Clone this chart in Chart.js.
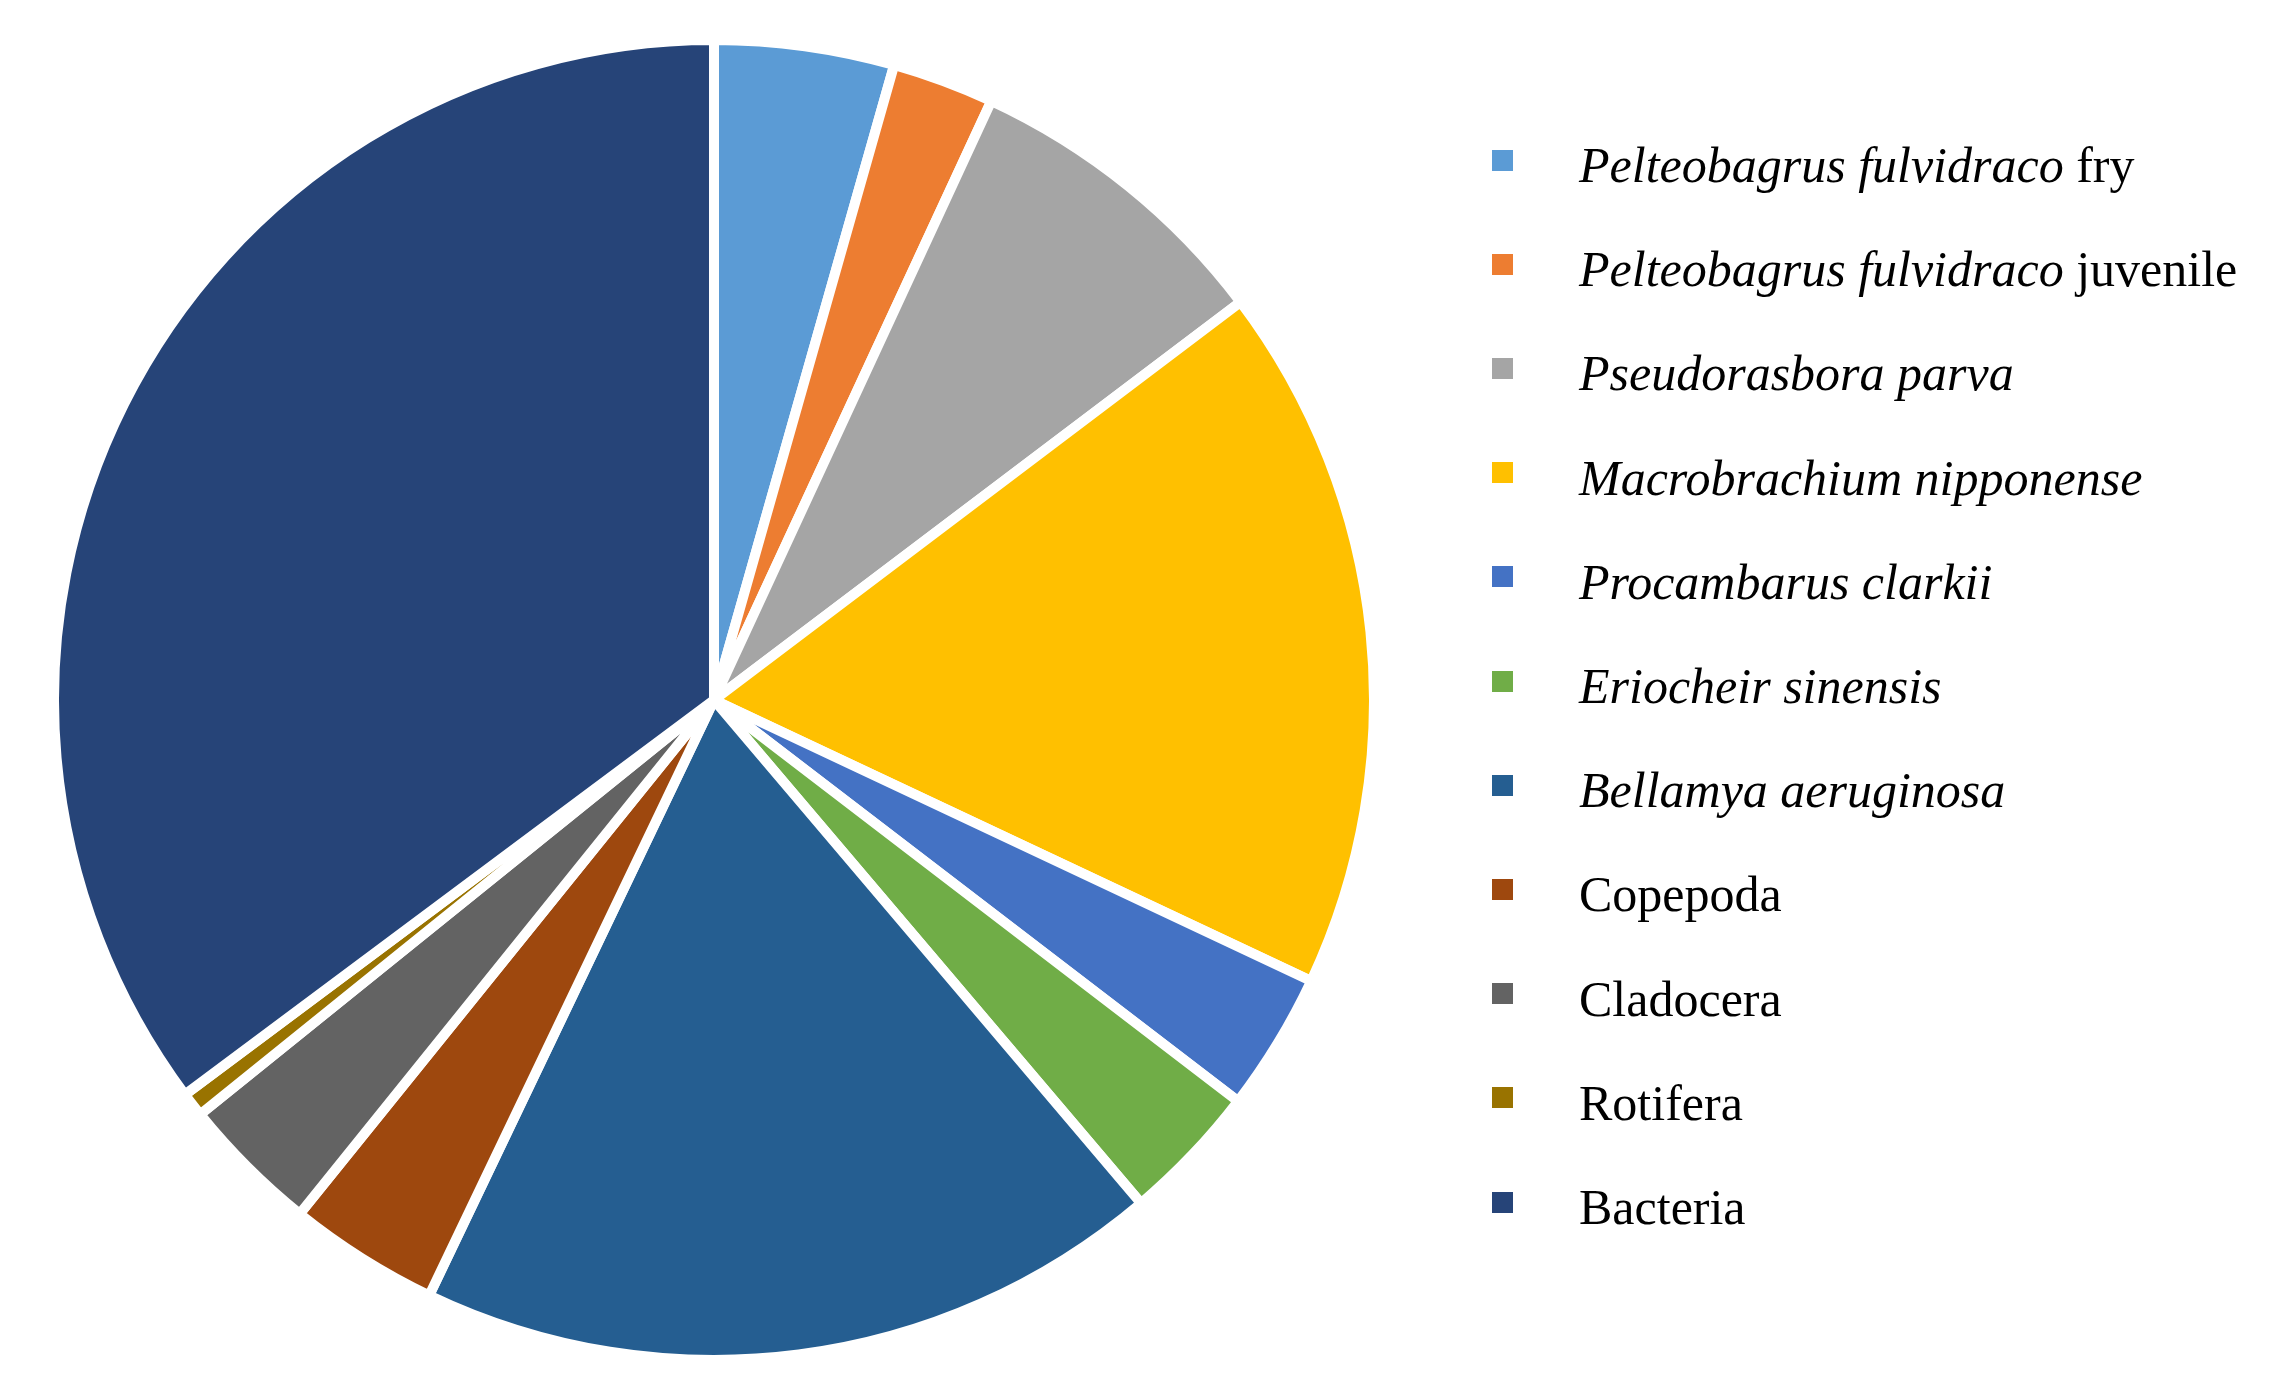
<!DOCTYPE html>
<html>
<head>
<meta charset="utf-8">
<script src="https://cdn.jsdelivr.net/npm/chart.js@4.4.1/dist/chart.umd.min.js"></script>
<style>
    html, body { margin: 0; padding: 0; background: #fff; }
    body { width: 2272px; height: 1390px; position: relative; overflow: hidden; }
    #pieWrap { position: absolute; left: 49px; top: 35px; width: 1330px; height: 1330px; }
    #legend { position: absolute; left: 0; top: 0; }
    .lg-box { position: absolute; width: 21px; height: 21px; }
    .lg-text {
        position: absolute; white-space: nowrap;
        font-family: "Liberation Serif", "Times New Roman", serif;
        font-size: 50px; line-height: 50px; color: #000;
    }
    .lg-text i { font-style: italic; }
</style>
</head>
<body>
<div id="pieWrap"><canvas id="dietChart" width="1330" height="1330"></canvas></div>
<div id="legend"></div>
<script>
// Diet composition (%)
const speciesNames = [
    'Pelteobagrus fulvidraco', 'Pelteobagrus fulvidraco', 'Pseudorasbora parva',
    'Macrobrachium nipponense', 'Procambarus clarkii', 'Eriocheir sinensis',
    'Bellamya aeruginosa', '', '', '', ''
];
const nameSuffix = [' fry', ' juvenile', '', '', '', '', '', 'Copepoda', 'Cladocera', 'Rotifera', 'Bacteria'];
const shares = [4.4, 2.5, 7.8, 17.3, 3.4, 3.4, 18.3, 3.7, 3.4, 0.6, 35.2];
const sliceColors = ['#5B9BD5', '#ED7D31', '#A5A5A5', '#FFC000', '#4472C4', '#70AD47',
                     '#255E91', '#9E480E', '#636363', '#997300', '#264478'];

const labels = speciesNames.map((n, i) => (n + nameSuffix[i]).trim());

const ctx = document.getElementById('dietChart');
const dietChart = new Chart(ctx, {
    type: 'pie',
    data: {
        labels: labels,
        datasets: [{
            data: shares,
            backgroundColor: sliceColors,
            borderColor: '#ffffff',
            borderWidth: 10
        }]
    },
    options: {
        responsive: false,
        animation: false,
        layout: { padding: 0 },
        plugins: {
            legend: { display: false },
            tooltip: { enabled: false }
        }
    }
});

// Legend (mixed italic / upright text, so built as HTML)
const legend = document.getElementById('legend');
const firstRow = 160, rowStep = 104.2;
labels.forEach((lab, i) => {
    const cy = firstRow + i * rowStep;
    const box = document.createElement('div');
    box.className = 'lg-box';
    box.style.left = '1492px';
    box.style.top = (cy - 10.5) + 'px';
    box.style.background = sliceColors[i];
    legend.appendChild(box);

    const txt = document.createElement('div');
    txt.className = 'lg-text';
    txt.style.left = '1579px';
    txt.style.top = (cy - 20) + 'px';
    if (speciesNames[i]) {
        const it = document.createElement('i');
        it.textContent = speciesNames[i];
        txt.appendChild(it);
    }
    if (nameSuffix[i]) txt.appendChild(document.createTextNode(nameSuffix[i]));
    legend.appendChild(txt);
});
</script>
</body>
</html>
